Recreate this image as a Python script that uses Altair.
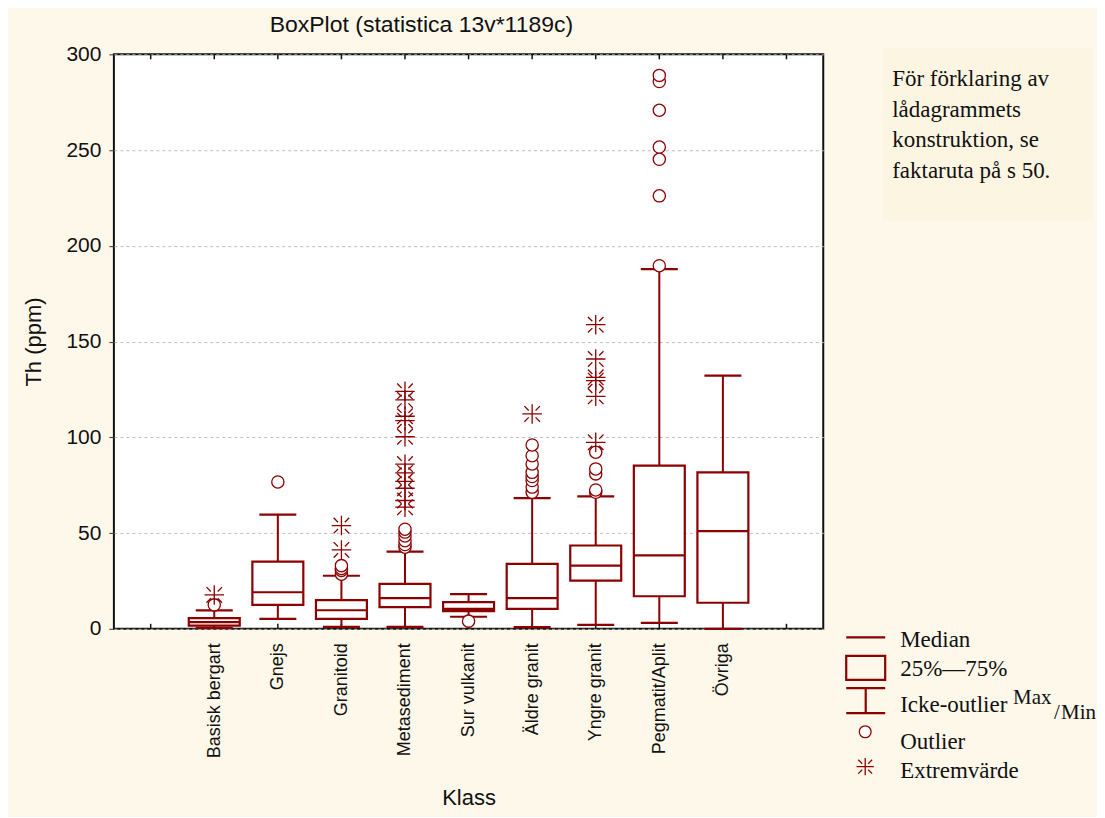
import altair as alt
import pandas as pd

# ---------------- data ----------------
categories = ["Basisk bergart", "Gnejs", "Granitoid", "Metasediment", "Sur vulkanit",
              "Äldre granit", "Yngre granit", "Pegmatit/Aplit", "Övriga"]
q1 = [1.7, 12.5, 5.2, 11.3, 9.2, 10.4, 25.2, 17.0, 13.6]
medians = [3.5, 19.1, 9.7, 16.0, 10.4, 16.0, 33.0, 38.3, 51.0]
q3 = [5.6, 35.1, 15.0, 23.5, 13.9, 33.9, 43.5, 85.2, 81.7]
whisker_low = [0.5, 5.2, 1.0, 1.0, 6.3, 0.9, 2.1, 3.1, 0.0]
whisker_high = [9.6, 59.6, 27.7, 40.3, 18.1, 68.2, 69.2, 187.8, 132.2]

outliers_basisk = [12.5]
outliers_gnejs = [76.7]
outliers_granitoid = [28.5, 30.5, 31.5, 33.0]
outliers_metased = [42.6, 44.0, 46.0, 48.5, 50.5, 52.0]
outliers_sur = [4.0]
outliers_aldre = [71.3, 74.0, 77.4, 79.5, 81.7, 86.1, 90.4, 96.0]
outliers_yngre = [71.3, 72.5, 80.9, 83.5, 92.2]
outliers_pegmatit = [189.6, 226.1, 245.2, 251.6, 270.8, 285.8, 289.0]
outliers_ovriga = []

extremes_basisk = [17.7]
extremes_gnejs = []
extremes_granitoid = [41.2, 53.9]
extremes_metased = [63.5, 67.0, 73.4, 77.0, 81.4, 86.0, 100.3, 108.7, 111.0, 119.5, 124.0]
extremes_sur = []
extremes_aldre = [112.2]
extremes_yngre = [97.4, 121.4, 129.6, 131.3, 140.9, 158.8]
extremes_pegmatit = []
extremes_ovriga = []

outliers = [outliers_basisk, outliers_gnejs, outliers_granitoid, outliers_metased, outliers_sur,
            outliers_aldre, outliers_yngre, outliers_pegmatit, outliers_ovriga]
extremes = [extremes_basisk, extremes_gnejs, extremes_granitoid, extremes_metased, extremes_sur,
            extremes_aldre, extremes_yngre, extremes_pegmatit, extremes_ovriga]

y_ticks = [0, 50, 100, 150, 200, 250, 300]
slot_labels = [""] + categories + [""]

note_text = "För förklaring av\nlådagrammets\nkonstruktion, se\nfaktaruta på s 50."

# ---------------- tables ----------------
box_df = pd.DataFrame({"klass": categories, "pos": list(range(1, 10)), "q1": q1,
                       "median": medians, "q3": q3, "lo": whisker_low, "hi": whisker_high})
out_df = pd.DataFrame([{"pos": i + 1, "value": v} for i, vals in enumerate(outliers) for v in vals])
ext_df = pd.DataFrame([{"pos": i + 1, "value": v} for i, vals in enumerate(extremes) for v in vals])
tick_df = pd.DataFrame({"pos": list(range(len(slot_labels))), "b0": 0.0, "b1": 2.6, "t0": 297.4, "t1": 300.0})

RED = "#8B0000"
INK = "#111111"
BG = "#FDF8EA"
STAR = ("M0,-1L0,1M-1,0L1,0"
        "M-0.8,-0.8L-0.35,-0.35M0.35,0.35L0.8,0.8"
        "M0.8,-0.8L0.35,-0.35M-0.35,0.35L-0.8,0.8")

label_expr = "[" + ",".join("'" + s + "'" for s in slot_labels) + "][datum.value]"

x_scale = alt.Scale(domain=[-0.5, len(slot_labels) - 0.5], nice=False, zero=False)
y_scale = alt.Scale(domain=[0, 300], nice=False, zero=True)

x_axis = alt.Axis(values=list(range(len(slot_labels))), labelExpr=label_expr, labelAngle=270,
                  labelAlign="right", labelBaseline="middle", labelFont="Liberation Sans",
                  labelFontSize=18, labelColor=INK, labelPadding=14, ticks=False, domain=False,
                  grid=False, title="Klass", titleFont="Liberation Sans", titleFontSize=22,
                  titleFontWeight="normal", titleColor=INK, titlePadding=30)
y_axis = alt.Axis(values=y_ticks, grid=True, gridColor="#BDBDBD", gridDash=[3, 3], gridWidth=1,
                  domain=False, tickColor="#333333", tickSize=5, labelFont="Liberation Sans",
                  labelFontSize=21, labelColor=INK, labelPadding=8, title="Th (ppm)",
                  titleFont="Liberation Sans", titleFontSize=22, titleFontWeight="normal",
                  titleColor=INK, titlePadding=20)


def X():
    return alt.X("pos:Q", scale=x_scale, axis=x_axis)


def Y(field):
    return alt.Y(field + ":Q", scale=y_scale, axis=y_axis)


ticks_bottom = alt.Chart(tick_df).mark_rule(color=INK, strokeWidth=1.5).encode(x=X(), y=Y("b0"), y2="b1")
ticks_top = alt.Chart(tick_df).mark_rule(color=INK, strokeWidth=1.5).encode(x=X(), y=Y("t0"), y2="t1")

base = alt.Chart(box_df)
whisk_up = base.mark_rule(color=RED, strokeWidth=2).encode(x=X(), y=Y("q3"), y2="hi")
whisk_lo = base.mark_rule(color=RED, strokeWidth=2).encode(x=X(), y=Y("lo"), y2="q1")
cap_hi = base.mark_tick(orient="horizontal", size=37, thickness=2.2, color=RED, opacity=1).encode(x=X(), y=Y("hi"))
cap_lo = base.mark_tick(orient="horizontal", size=37, thickness=2.2, color=RED, opacity=1).encode(x=X(), y=Y("lo"))
boxes = base.mark_bar(orient="vertical", size=51, fill="white", stroke=RED, strokeWidth=2.2).encode(
    x=X(), y=Y("q1"), y2="q3")
meds = base.mark_tick(orient="horizontal", size=51, thickness=2.2, color=RED, opacity=1).encode(x=X(), y=Y("median"))
outs = alt.Chart(out_df).mark_point(shape="circle", size=150, filled=True, fill="white", fillOpacity=1,
                                    stroke=RED, strokeWidth=1.3, opacity=1).encode(x=X(), y=Y("value"))
exts = alt.Chart(ext_df).mark_point(shape=STAR, size=380, filled=False, stroke=RED,
                                    strokeWidth=1.3, opacity=1).encode(x=X(), y=Y("value"))

main = alt.layer(ticks_bottom, ticks_top, whisk_up, whisk_lo, cap_hi, cap_lo, boxes, meds, outs, exts).properties(
    width=710, height=575,
    view=alt.ViewBackground(fill="white", stroke=INK, strokeWidth=2))

# ---------------- side panel: note + legend ----------------
SIDE_H = 735
leg_scale = alt.Scale(domain=[-18.01, 4.675], reverse=True, nice=False, zero=False)


def LY(field):
    return alt.Y(field + ":Q", scale=leg_scale, axis=None)


note_df = pd.DataFrame({"text": [note_text]})
note_box = alt.Chart(note_df).mark_rect(color="#FBF5E2").encode(
    x=alt.value(50), x2=alt.value(260), y=alt.value(-6), y2=alt.value(167))
note = alt.Chart(note_df).mark_text(align="left", baseline="alphabetic", font="Liberation Serif",
                                    fontSize=23, lineHeight=30.8, lineBreak="\n", color=INK).encode(
    x=alt.value(59), y=alt.value(31.5), text="text:N")

leg_sym = pd.DataFrame({"median_y": [0.0], "box_y0": [0.571], "box_y1": [1.312],
                        "cap_hi": [1.568], "cap_lo": [2.340], "out_y": [2.917], "ext_y": [3.997]})
leg_text = pd.DataFrame({
    "label": ["Median", "25%—75%", "Icke-outlier", "Outlier", "Extremvärde"],
    "row": [0.302, 1.198, 2.309, 3.463, 4.361]})
leg_sup = pd.DataFrame({"label": ["Max", "/", "Min"], "row": [2.052, 2.515, 2.515],
                        "xpos": [180, 221, 228]})

lsym = alt.Chart(leg_sym)
l_med = lsym.mark_rule(color=RED, strokeWidth=2.2).encode(x=alt.value(13), x2=alt.value(52), y=LY("median_y"))
l_box = lsym.mark_rect(fill="transparent", stroke=RED, strokeWidth=2.2).encode(
    x=alt.value(13), x2=alt.value(52), y=LY("box_y0"), y2="box_y1")
l_caph = lsym.mark_rule(color=RED, strokeWidth=2.2).encode(x=alt.value(13), x2=alt.value(52), y=LY("cap_hi"))
l_capl = lsym.mark_rule(color=RED, strokeWidth=2.2).encode(x=alt.value(13), x2=alt.value(52), y=LY("cap_lo"))
l_wh = lsym.mark_rule(color=RED, strokeWidth=2.2).encode(x=alt.value(32.5), y=LY("cap_hi"), y2="cap_lo")
l_out = lsym.mark_point(shape="circle", size=140, filled=True, fill="white", stroke=RED,
                        strokeWidth=1.3, opacity=1).encode(x=alt.value(32), y=LY("out_y"))
l_ext = lsym.mark_point(shape=STAR, size=300, filled=False, stroke=RED, strokeWidth=1.3,
                        opacity=1).encode(x=alt.value(32), y=LY("ext_y"))
l_txt = alt.Chart(leg_text).mark_text(align="left", baseline="alphabetic", font="Liberation Serif",
                                      fontSize=23, color=INK).encode(
    x=alt.value(67), y=LY("row"), text="label:N")
l_sup = alt.Chart(leg_sup).mark_text(align="left", baseline="alphabetic", font="Liberation Serif",
                                     fontSize=21, color=INK).encode(
    x=alt.X("xpos:Q", scale=alt.Scale(domain=[0, 262], nice=False, zero=True), axis=None),
    y=LY("row"), text="label:N")

side = alt.layer(note_box, note, l_med, l_box, l_caph, l_capl, l_wh, l_out, l_ext, l_txt, l_sup).properties(
    width=262, height=SIDE_H,
    view=alt.ViewBackground(fill="transparent", stroke="transparent"))

chart = alt.hconcat(main, side, spacing=8).properties(
    title=alt.TitleParams("BoxPlot (statistica 13v*1189c)", anchor="start", dx=248, offset=5,
                          font="Liberation Sans", fontSize=23, fontWeight="normal", color=INK),
    padding={"left": 13, "top": 6, "right": 0, "bottom": 6},
    background=BG,
).resolve_scale(x="independent", y="independent")

chart.save("out.html", embed_options={"renderer": "svg", "actions": False})
